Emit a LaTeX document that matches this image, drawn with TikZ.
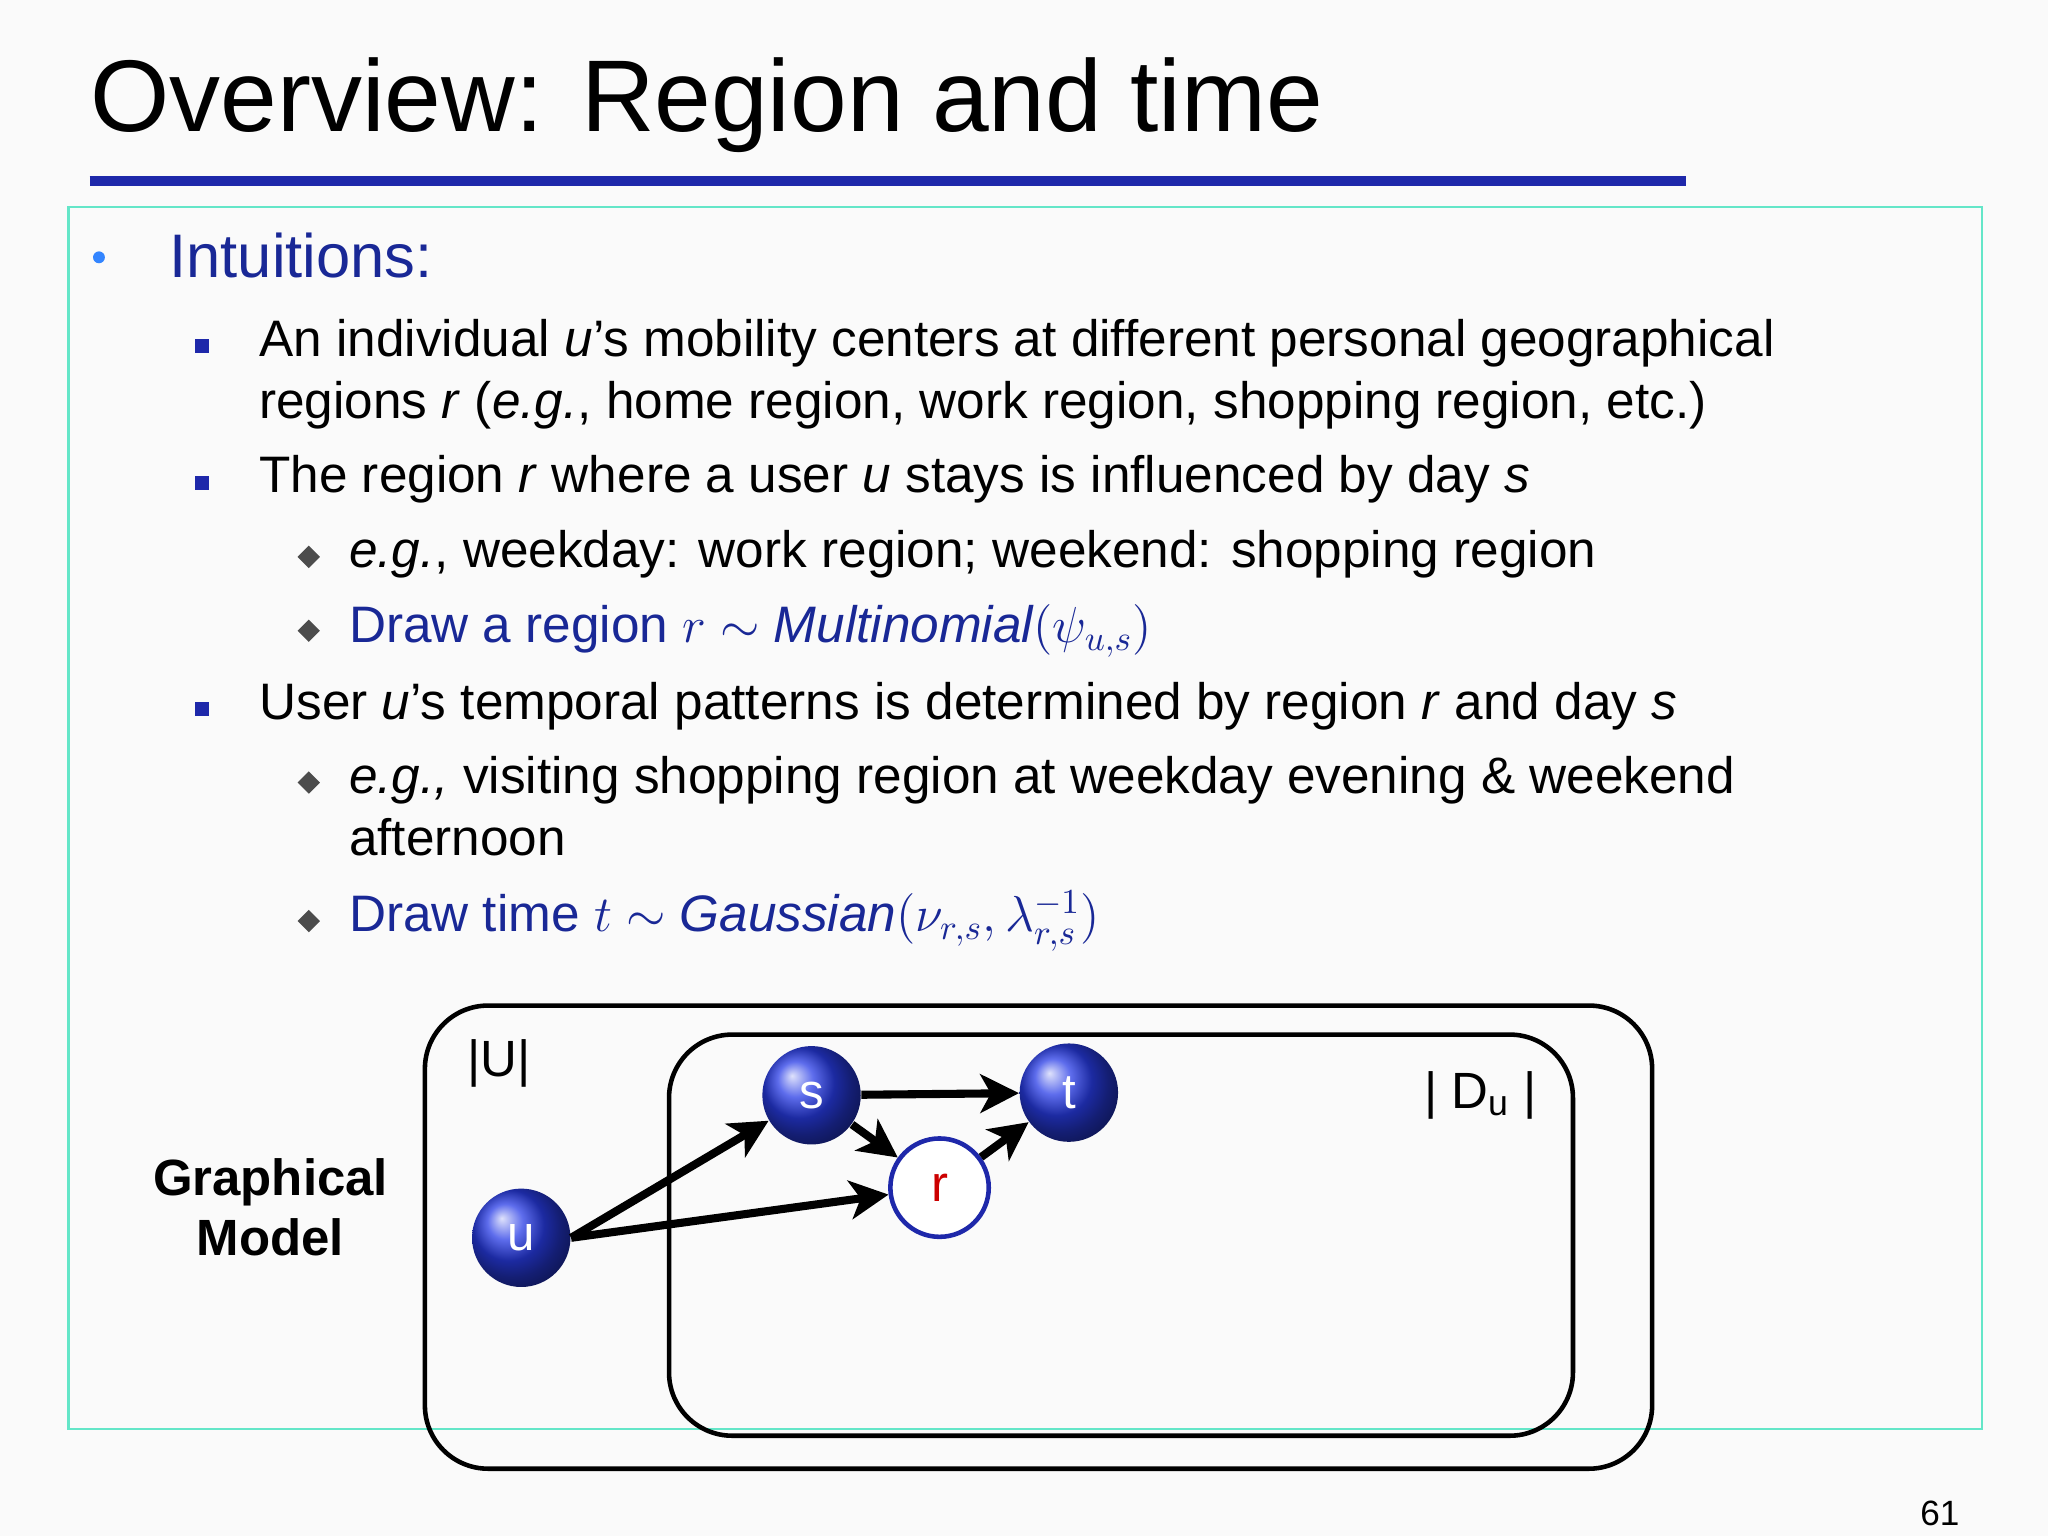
\documentclass[tikz,border=0pt]{standalone}
\usepackage{fontspec}
\setmainfont{Liberation Sans}
\usetikzlibrary{arrows.meta}
\definecolor{tblue}{RGB}{30,40,170}
\definecolor{bblue}{RGB}{25,40,150}
\definecolor{ballc}{RGB}{40,60,230}
\definecolor{frame}{RGB}{100,230,200}
\tikzset{
 txt/.style={anchor=base west,inner sep=0pt,font=\fontsize{14.6}{17}\selectfont},
 btxt/.style={txt,text=bblue},
 sq/.style={fill=tblue,minimum size=4pt,inner sep=0pt},
 dia/.style={fill=black!70,minimum size=4.5pt,inner sep=0pt,rotate=45},
 ball/.style={circle,minimum size=28pt,inner sep=0pt,shading=ball,ball color=ballc,text=white,font=\fontsize{14}{16}\selectfont},
 arr/.style={line width=2.3pt,-{Stealth[length=11pt,width=11pt,inset=3pt]}},
 plate/.style={line width=1.3pt,rounded corners=18pt}
}
\begin{document}
\begin{tikzpicture}[x=0.0132cm,y=-0.0132cm]
\useasboundingbox (0,0) rectangle (1552,1164);
\fill[black!2] (0,0) rectangle (1552,1164);
\node[anchor=base west,inner sep=0pt,font=\fontsize{29}{32}\selectfont] (title) at (68,100) {Overview: Region and time};
\draw[tblue,line width=3pt] (68,137) -- (1278,137);
\draw[frame,line width=0.7pt] (52,157) rectangle (1502,1083);
\fill[blue!60!cyan!80] (75,195) circle (4.5);
\node[anchor=base west,inner sep=0pt,text=bblue,font=\fontsize{17.5}{20}\selectfont] (intu) at (128,210) {Intuitions:};
\node[sq] (b1) at (153,262) {};
\node[txt] (l1) at (196,270) {An individual \textit{u}’s mobility centers at different personal geographical};
\node[txt] (l2) at (196,317) {regions \textit{r} (\textit{e.g.}, home region, work region, shopping region, etc.)};
\node[sq] (b2) at (153,366) {};
\node[txt] (l3) at (196,373) {The region \textit{r} where a user \textit{u} stays is influenced by day \textit{s}};
\node[dia] (d1) at (234,422) {};
\node[txt] (l4) at (264,430) {\textit{e.g.}, weekday: work region; weekend: shopping region};
\node[dia] (d2) at (234,478) {};
\node[btxt] (l5) at (264,487) {Draw a region $r\sim \mathit{Multinomial}(\psi_{u,s})$};
\node[sq] (b3) at (153,537) {};
\node[txt] (l6) at (196,545) {User \textit{u}’s temporal patterns is determined by region \textit{r} and day \textit{s}};
\node[dia] (d3) at (234,593) {};
\node[txt] (l7) at (264,601) {\textit{e.g.,} visiting shopping region at weekday evening \& weekend};
\node[txt] (l8) at (264,648) {afternoon};
\node[dia] (d4) at (234,698) {};
\node[btxt] (l9) at (264,706) {Draw time $t\sim \mathit{Gaussian}(\nu_{r,s},\lambda_{r,s}^{-1})$};
% plates
\draw[plate] (322,762) rectangle (1252,1113);
\draw[plate] (507,784) rectangle (1192,1088);
\node[anchor=center,font=\fontsize{14.5}{16}\selectfont] (U) at (378,806) {|U|};
\node[anchor=center,font=\fontsize{14.5}{16}\selectfont] (D) at (1122,830) {| D\textsubscript{u} |};
\node[align=center,font=\bfseries\fontsize{14.5}{17}\selectfont] (gm) at (205,915) {Graphical\\Model};
\node[ball] (s) at (615,830) {s};
\node[ball] (t) at (810,828) {t};
\node[ball] (u) at (395,938) {u};
\node[circle,minimum size=28pt,inner sep=0pt,draw=tblue,line width=1.3pt,fill=white,text=red!80!black,font=\fontsize{14.5}{16}\selectfont] (r) at (712,900) {r};
\draw[arr] (u.east) -- (s);
\draw[arr] (u.east) -- (r);
\draw[arr] (s) -- (t);
\draw[arr] (s) -- (r);
\draw[arr] (r) -- (t);
\node[font=\fontsize{10}{12}\selectfont] (pg) at (1470,1147) {61};
\end{tikzpicture}
\end{document}
